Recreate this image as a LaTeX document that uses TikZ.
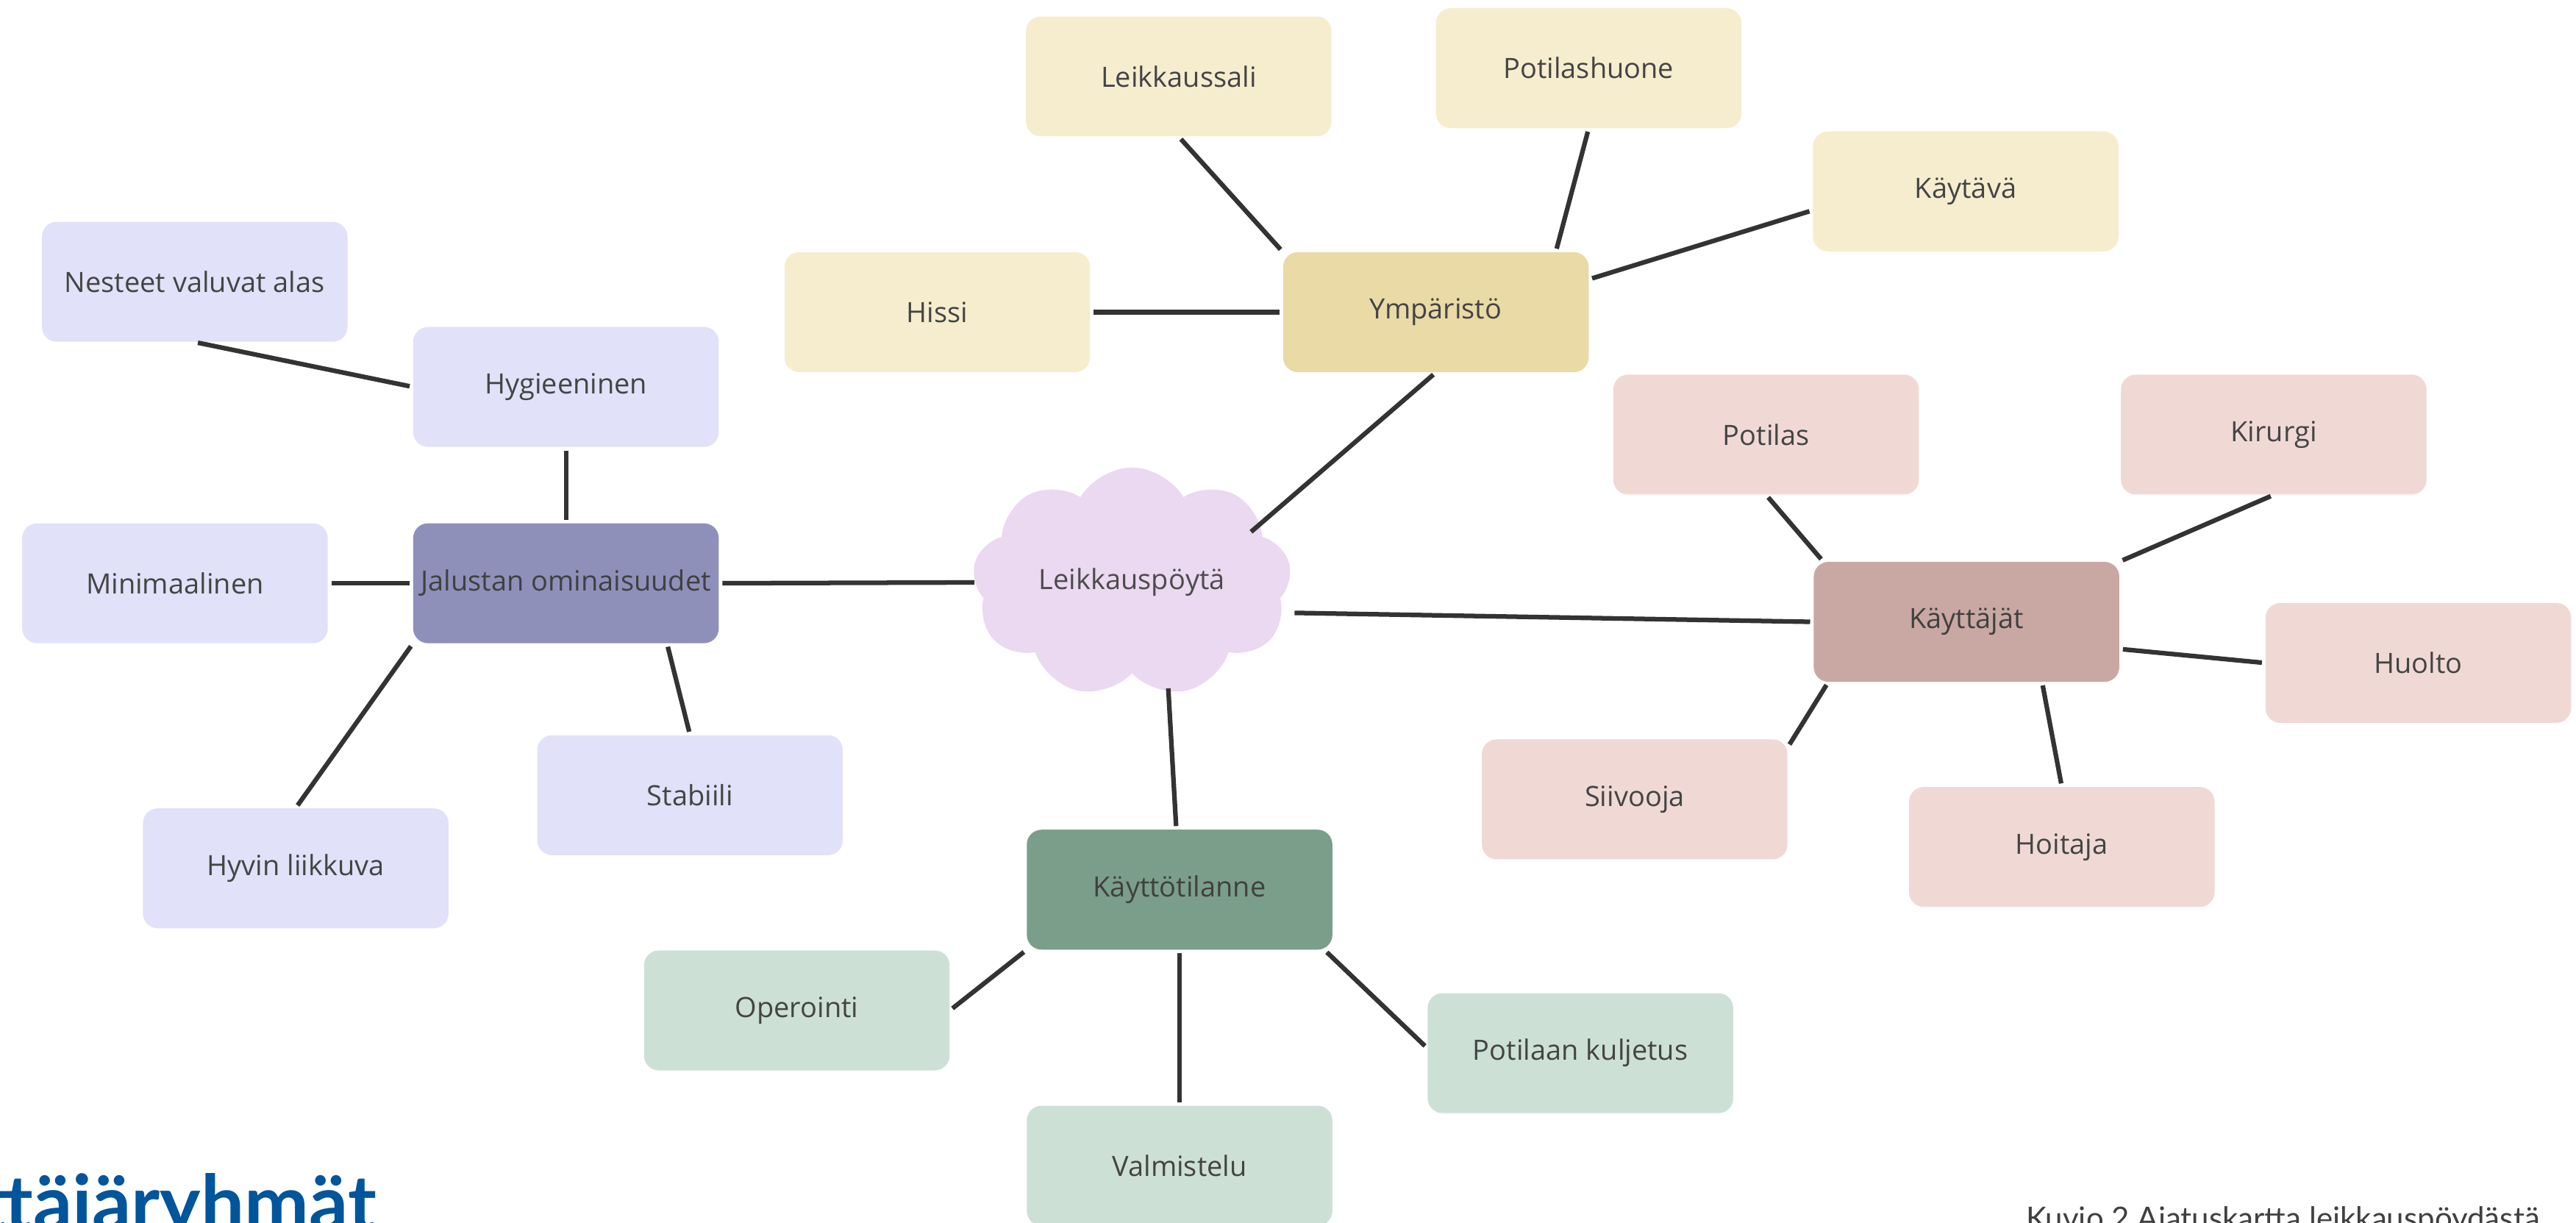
\documentclass[tikz,border=0pt]{standalone}
\usepackage{fontspec}
\setmainfont{Open Sans}
\newfontfamily\capfont{Lato}
\usetikzlibrary{shapes.symbols,calc}
\definecolor{yelL}{HTML}{F6EDCF}
\definecolor{yelD}{HTML}{E9DAA6}
\definecolor{purL}{HTML}{E1E1F9}
\definecolor{purD}{HTML}{8F90BA}
\definecolor{pinL}{HTML}{F0D9D5}
\definecolor{pinD}{HTML}{C9A8A3}
\definecolor{grnL}{HTML}{CDE0D6}
\definecolor{grnD}{HTML}{7B9E8B}
\definecolor{cloudC}{HTML}{EBD8F1}
\definecolor{txt}{HTML}{444444}
\definecolor{lineC}{HTML}{333333}
\definecolor{logoBlue}{HTML}{00559B}
\tikzset{
  box/.style={rectangle, rounded corners=9pt, minimum width=186pt, minimum height=73pt,
    inner sep=0pt, text=txt, font=\fontsize{17}{20}\selectfont},
  yl/.style={box, fill=yelL}, yd/.style={box, fill=yelD},
  pl/.style={box, fill=purL}, pd/.style={box, fill=purD, text=black!75},
  rl/.style={box, fill=pinL}, rd/.style={box, fill=pinD, text=black!75},
  gl/.style={box, fill=grnL}, gd/.style={box, fill=grnD, text=black!75},
  link/.style={draw=lineC, line width=2.8pt, shorten <=2pt, shorten >=2pt},
}
\begin{document}
\begin{tikzpicture}[x=1pt,y=-1pt]
\useasboundingbox (0,0) rectangle (1568,744);
\clip (0,0) rectangle (1568,744);
% yellow group
\node[yl] (leik) at (717.5,46.5) {Leikkaussali};
\node[yl] (pot) at (967,41.5) {Potilashuone};
\node[yl] (kayt) at (1196.5,116.5) {Käytävä};
\node[yl] (hissi) at (570.5,190) {Hissi};
\node[yd] (ymp) at (874,190) {Ympäristö};
% purple group
\node[pl] (nest) at (118.5,171.5) {Nesteet valuvat alas};
\node[pl] (hyg) at (344.5,235.5) {Hygieeninen};
\node[pl] (mini) at (106.5,355) {Minimaalinen};
\node[pd] (jal) at (344.5,355) {Jalustan ominaisuudet};
\node[pl] (hyv) at (180,528.5) {Hyvin liikkuva};
\node[pl] (stab) at (420,484) {Stabiili};
% cloud
\node[cloud, cloud puffs=9, cloud puff arc=120, cloud ignores aspect, minimum width=194pt,
  minimum height=140pt, inner sep=0pt, fill=cloudC, text=black!70,
  font=\fontsize{17}{20}\selectfont] (cl) at (689,354.5) {Leikkauspöytä};
% green group
\node[gd] (ktt) at (718,541.5) {Käyttötilanne};
\node[gl] (oper) at (485,615) {Operointi};
\node[gl] (valm) at (718,709.5) {Valmistelu};
\node[gl] (pk) at (962,641) {Potilaan kuljetus};
% pink group
\node[rd] (kj) at (1197,378.5) {Käyttäjät};
\node[rl] (potil) at (1075,264.5) {Potilas};
\node[rl] (kir) at (1384,264.5) {Kirurgi};
\node[rl] (huol) at (1472,403.5) {Huolto};
\node[rl] (siiv) at (995,486.5) {Siivooja};
\node[rl] (hoit) at (1255,515.5) {Hoitaja};
% connectors
\draw[link] (leik.south) -- (ymp.north west);
\draw[link] (pot.south) -- ([xshift=73pt]ymp.north);
\draw[link] ([yshift=-11.5pt]kayt.west) -- ([yshift=20pt]ymp.east);
\draw[link] (hissi.east) -- (ymp.west);
\draw[link] (ymp.south) -- ([shift={(71pt,29.5pt)}]cl.center);
\draw[link] (nest.south) -- (hyg.west);
\draw[link] (hyg.south) -- (jal.north);
\draw[link] (mini.east) -- (jal.west);
\draw[link] (jal.south west) -- (hyv.north);
\draw[link] ([xshift=61.5pt]jal.south) -- (stab.north);
\draw[link] (jal.east) -- ([xshift=2pt]cl.west);
\draw[link] ([shift={(22pt,-62.5pt)}]cl.center) -- ([xshift=-2pt]ktt.north);
\draw[link] ([shift={(97pt,-18.5pt)}]cl.center) -- (kj.west);
\draw[link] (ktt.south west) -- (oper.east);
\draw[link] (ktt.south) -- (valm.north);
\draw[link] ([xshift=-5pt]ktt.south east) -- ([yshift=3pt]pk.west);
\draw[link] (potil.south) -- ([xshift=6pt]kj.north west);
\draw[link] (kir.south) -- (kj.north east);
\draw[link] ([yshift=-16.5pt]kj.east) -- (huol.west);
\draw[link] ([xshift=9pt]kj.south west) -- ([yshift=-5pt]siiv.north east);
\draw[link] ([xshift=46pt]kj.south) -- (hoit.north);
% bottom texts (cut by the picture edge, as in the reference)
\node[anchor=base west, inner sep=0pt, text=logoBlue,
  font=\capfont\bfseries\fontsize{47}{50}\selectfont] (logo) at (-13,749) {ttäjäryhmät};
\node[anchor=base west, inner sep=0pt, text=black!75,
  font=\capfont\fontsize{18.8}{20}\selectfont] (cap) at (1233,748) {Kuvio 2 Ajatuskartta leikkauspöydästä};
\end{tikzpicture}
\end{document}
